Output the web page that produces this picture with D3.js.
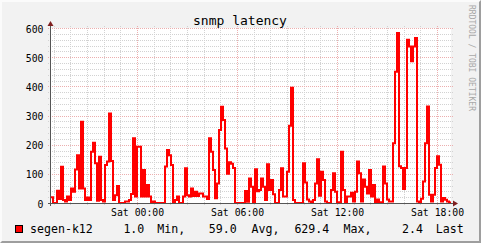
<!DOCTYPE html>
<html>
<head>
<meta charset="utf-8">
<script src="https://cdn.jsdelivr.net/npm/d3@7/dist/d3.min.js"></script>
<style>
  html, body { margin: 0; padding: 0; background: #f2f2f2; overflow: hidden; }
  text { font-family: "DejaVu Sans Mono", monospace; }
</style>
</head>
<body>
<div id="chart"></div>
<script>
// samples every 432 s, first one at Fri 18:50
let startTime = Date.UTC(2010, 0, 1, 18, 50);
let endTime = Date.UTC(2010, 0, 2, 18, 50);
let stepSec = 432;

let latency = [
  20, 0, 0, 42, 14, 124, 10, 5, 22, 10,
  50, 39, 115, 164, 50, 279, 50, 10, 19, 10,
  176, 207, 136, 8, 159, 10, 5, 130, 142, 307,
  144, 10, 27, 58, 0, 0, 0, 5, 5, 10,
  31, 222, 22, 193, 193, 22, 113, 22, 62, 22,
  0, 5, 0, 0, 0, 0, 0, 125, 182, 164,
  130, 0, 10, 22, 0, 0, 22, 119, 27, 22,
  50, 24, 39, 24, 33, 33, 22, 22, 14, 222,
  176, 113, 16, 67, 250, 330, 285, 187, 100, 140,
  135, 120, 0, 0, 0, 0, 0, 41, 4, 84,
  56, 0, 116, 40, 45, 84, 56, 10, 133, 45,
  79, 30, 0, 0, 45, 119, 22, 22, 107, 265,
  395, 10, 0, 0, 0, 0, 136, 70, 12, 5,
  2, 10, 67, 150, 25, 107, 79, 5, 0, 0,
  45, 102, 39, 3, 0, 176, 45, 0, 22, 22,
  35, 5, 39, 142, 102, 5, 81, 56, 33, 113,
  22, 62, 0, 12, 3, 3, 125, 67, 12, 5,
  5, 205, 450, 583, 126, 120, 48, 120, 560, 537,
  486, 537, 566, 5, 2, 15, 74, 205, 331, 28,
  5, 28, 120, 160, 131, 5, 17, 11, 5, 2
];

let yMajor = [0, 100, 200, 300, 400, 500, 600];
let yMinorStep = 20;
let xMajor = [
  Date.UTC(2010, 0, 2, 0), Date.UTC(2010, 0, 2, 6),
  Date.UTC(2010, 0, 2, 12), Date.UTC(2010, 0, 2, 18)
];

let title = "snmp latency";
let seriesName = "segen-k12";
let statValues = ["1.0", "59.0", "629.4", "2.4"];
let statNames = ["Min,", "Avg,", "Max,", "Last"];

let width = 481, height = 243;

let x = d3.scaleUtc().domain([startTime, endTime]).range([51, 451]);
let y = d3.scaleLinear().domain([0, 600]).range([203.5, 28.5]);

let svg = d3.select("#chart").append("svg")
  .attr("width", width)
  .attr("height", height);

// background and 3d frame
svg.append("rect").attr("width", width).attr("height", height).attr("fill", "#f2f2f2");
svg.append("path")
  .attr("d", "M0,0H" + width + "L" + (width - 2) + ",2H2V" + (height - 2) + "L0," + height + "Z")
  .attr("fill", "#fbfbfb");
svg.append("path")
  .attr("d", "M" + width + ",0V" + height + "H0L2," + (height - 2) + "H" + (width - 2) + "V2Z")
  .attr("fill", "#9e9e9e");

// canvas
svg.append("rect")
  .attr("x", x.range()[0]).attr("y", y(600) - 0.5)
  .attr("width", x.range()[1] - x.range()[0])
  .attr("height", y(0) - y(600) + 0.5)
  .attr("fill", "#ffffff");

let grid = svg.append("g");
let px = v => Math.round(x(v)) + 0.5;
let py = v => Math.round(y(v) - 0.5) + 0.5;

// minor grid: every 20 and every hour
let yMinor = d3.range(yMinorStep, 600, yMinorStep).filter(v => v % 100 !== 0);
let xMinor = d3.utcHours(new Date(startTime), new Date(endTime))
  .filter(d => d.getUTCHours() % 6 !== 0);

grid.selectAll(".hmin").data(yMinor).enter().append("line")
  .attr("x1", 48).attr("x2", 453)
  .attr("y1", py).attr("y2", py)
  .attr("stroke", "#d2d2d2").attr("stroke-dasharray", "1,1");
grid.selectAll(".vmin").data(xMinor).enter().append("line")
  .attr("x1", px).attr("x2", px)
  .attr("y1", 26).attr("y2", 206)
  .attr("stroke", "#d2d2d2").attr("stroke-dasharray", "1,1");

grid.selectAll(".hmaj").data(yMajor.slice(1)).enter().append("line")
  .attr("x1", 48).attr("x2", 453)
  .attr("y1", py).attr("y2", py)
  .attr("stroke", "#ecafaf").attr("stroke-dasharray", "1,1");
grid.selectAll(".vmaj").data(xMajor).enter().append("line")
  .attr("x1", px).attr("x2", px)
  .attr("y1", 26).attr("y2", 206)
  .attr("stroke", "#ecafaf").attr("stroke-dasharray", "1,1");

// data line
let points = latency.map((v, i) => ({ t: startTime + i * stepSec * 1000, v: v }));
points.push({ t: endTime, v: latency[latency.length - 1] });

let line = d3.line()
  .x(d => x(d.t))
  .y(d => y(d.v) - 0.5)
  .curve(d3.curveStepAfter);

svg.append("path")
  .datum(points)
  .attr("d", line)
  .attr("fill", "none")
  .attr("stroke", "#ff0000")
  .attr("stroke-width", 2);

// axes
svg.append("line").attr("x1", 48).attr("x2", 454).attr("y1", 203.5).attr("y2", 203.5)
  .attr("stroke", "#555");
svg.append("line").attr("x1", 50.5).attr("x2", 50.5).attr("y1", 206).attr("y2", 25)
  .attr("stroke", "#555");
svg.append("path").attr("d", "M50.5,21L53.5,26L47.5,26Z").attr("fill", "#801f1f");
svg.append("path").attr("d", "M458,203.5L453,200.5L453,206.5Z").attr("fill", "#801f1f");

// axis labels
let yAxis = d3.axisLeft(y).tickValues(yMajor).tickSize(0).tickPadding(0);
svg.append("g")
  .attr("transform", "translate(43.5,0)")
  .call(yAxis)
  .call(g => g.select(".domain").remove())
  .selectAll("text")
  .attr("x", 0).attr("dy", "0.36em")
  .attr("font-family", "DejaVu Sans Mono")
  .attr("font-size", 9.8)
  .attr("fill", "#000");

let xAxis = d3.axisBottom(x).tickValues(xMajor).tickSize(0).tickPadding(0)
  .tickFormat(d3.utcFormat("%a %H:%M"));
svg.append("g")
  .call(xAxis)
  .call(g => g.select(".domain").remove())
  .selectAll("text")
  .attr("y", 215.5).attr("dy", 0)
  .attr("font-family", "DejaVu Sans Mono")
  .attr("font-size", 9.8)
  .attr("fill", "#000");

// title
svg.append("text")
  .attr("x", 240).attr("y", 24.5)
  .attr("text-anchor", "middle")
  .attr("font-size", 13)
  .text(title);

// watermark
svg.append("text")
  .attr("transform", "translate(468.5,5) rotate(90)")
  .attr("font-size", 8)
  .attr("fill", "#a8a8a8")
  .text("RRDTOOL / TOBI OETIKER");

// legend
svg.append("rect")
  .attr("x", 15.5).attr("y", 225.5).attr("width", 7).attr("height", 7)
  .attr("fill", "#ff0000").attr("stroke", "#000");

let legendFont = 11.6;
let legendY = 233;
svg.append("text").attr("x", 30).attr("y", legendY).attr("font-size", legendFont)
  .text(seriesName);

let valueX = [123.4, 208.7, 294.4, 402.1];
let nameX = [157.3, 251.5, 343.6, 435.8];
statValues.forEach(function(v, i) {
  svg.append("text").attr("x", valueX[i]).attr("y", legendY)
    .attr("font-size", legendFont).text(v);
  svg.append("text").attr("x", nameX[i]).attr("y", legendY)
    .attr("font-size", legendFont).text(statNames[i]);
});
</script>
</body>
</html>
